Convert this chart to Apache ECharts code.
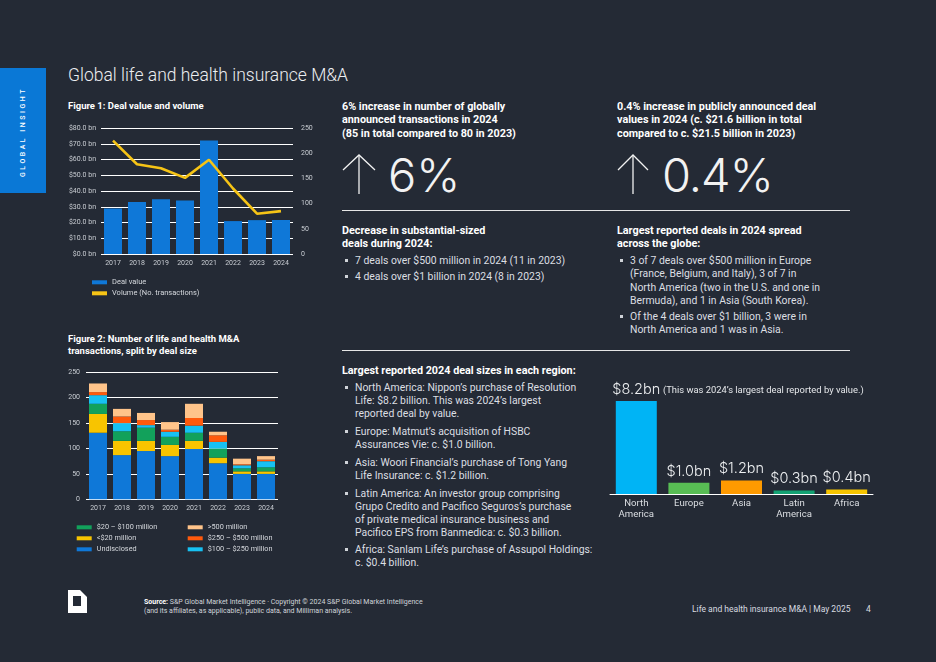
<!DOCTYPE html>
<html><head><meta charset="utf-8">
<script src="https://cdn.jsdelivr.net/npm/echarts@6/dist/echarts.min.js"></script>
<style>
html,body{margin:0;padding:0;}
body{width:936px;height:662px;background:#242a35;position:relative;overflow:hidden;font-family:Roboto,"Noto Sans",sans-serif;color:#dcdfe3;}
.abs{position:absolute;white-space:nowrap;}
.h{font-weight:700;color:#fff;font-size:10.8px;line-height:13.3px;}
.b{font-size:10.4px;line-height:13.2px;color:#dcdfe3;}
.bl{position:relative;padding-left:13px;}
.bl:before{content:"";position:absolute;left:3px;top:5px;width:3px;height:3px;background:#cfd3d8;}
.big{font-family:Inter,Roboto,sans-serif;font-weight:300;font-size:47px;color:#f2f2f2;line-height:50px;}
.rule{position:absolute;height:1px;background:#e6e6e6;}
.ft{font-size:9.5px;font-weight:700;color:#fff;line-height:11.5px;}
</style></head>
<body>
<div class="abs" style="left:0;top:68px;width:46px;height:125px;background:#0a78d6;"></div>
<div class="abs" style="left:23px;top:132px;transform:translate(-50%,-50%) rotate(-90deg);font-size:7px;letter-spacing:2.5px;color:#fff;font-weight:500;">GLOBAL INSIGHT</div>
<div class="abs" style="left:68px;top:63px;font-size:17.5px;font-weight:300;color:#eceef1;line-height:24px;">Global life and health insurance M&amp;A</div>

<div class="abs ft" style="left:68px;top:100px;">Figure 1: Deal value and volume</div>
<div class="abs ft" style="left:68px;top:333px;">Figure 2: Number of life and health M&amp;A<br>transactions, split by deal size</div>

<div id="c1" class="abs" style="left:60px;top:115px;width:270px;height:230px;"></div>
<div id="c2" class="abs" style="left:60px;top:360px;width:270px;height:230px;"></div>
<div id="c3" class="abs" style="left:595px;top:370px;width:285px;height:160px;"></div>

<!-- middle column -->
<div class="abs h" style="left:342px;top:100px;">6% increase in number of globally<br>announced transactions in 2024<br>(85 in total compared to 80 in 2023)</div>
<svg class="abs" style="left:340px;top:150px;" width="40" height="48"><polyline points="3,20 19,5 35,20" fill="none" stroke="#f2f2f2" stroke-width="1.3"/><line x1="19" y1="5" x2="19" y2="44" stroke="#f2f2f2" stroke-width="1.3"/></svg>
<div class="abs big" style="left:388px;top:150px;">6%</div>
<div class="rule" style="left:342px;top:210px;width:508px;"></div>
<div class="abs h" style="left:342px;top:224px;">Decrease in substantial-sized<br>deals during 2024:</div>
<div class="abs b" style="left:342px;top:253.5px;">
<div class="bl">7 deals over $500 million in 2024 (11 in 2023)</div>
<div class="bl" style="margin-top:3.4px;">4 deals over $1 billion in 2024 (8 in 2023)</div>
</div>

<!-- right column -->
<div class="abs h" style="left:617px;top:100px;">0.4% increase in publicly announced deal<br>values in 2024 (c. $21.6 billion in total<br>compared to c. $21.5 billion in 2023)</div>
<svg class="abs" style="left:615px;top:150px;" width="40" height="48"><polyline points="3,20 18,5 33,20" fill="none" stroke="#f2f2f2" stroke-width="1.3"/><line x1="18" y1="5" x2="18" y2="44" stroke="#f2f2f2" stroke-width="1.3"/></svg>
<div class="abs big" style="left:662px;top:150px;letter-spacing:-1px;">0.4%</div>
<div class="abs h" style="left:617px;top:224px;">Largest reported deals in 2024 spread<br>across the globe:</div>
<div class="abs b" style="left:617px;top:254px;line-height:13.3px;">
<div class="bl">3 of 7 deals over $500 million in Europe<br>(France, Belgium, and Italy), 3 of 7 in<br>North America (two in the U.S. and one in<br>Bermuda), and 1 in Asia (South Korea).</div>
<div class="bl" style="margin-top:2.7px;">Of the 4 deals over $1 billion, 3 were in<br>North America and 1 was in Asia.</div>
</div>
<div class="rule" style="left:342px;top:350px;width:508px;"></div>

<!-- middle lower -->
<div class="abs h" style="left:342px;top:364px;">Largest reported 2024 deal sizes in each region:</div>
<div class="abs b" style="left:342px;top:380.5px;line-height:13.1px;">
<div class="bl">North America: Nippon’s purchase of Resolution<br>Life: $8.2 billion. This was 2024’s largest<br>reported deal by value.</div>
<div class="bl" style="margin-top:5px;">Europe: Matmut’s acquisition of HSBC<br>Assurances Vie: c. $1.0 billion.</div>
<div class="bl" style="margin-top:5px;">Asia: Woori Financial’s purchase of Tong Yang<br>Life Insurance: c. $1.2 billion.</div>
<div class="bl" style="margin-top:5px;">Latin America: An investor group comprising<br>Grupo Credito and Pacifico Seguros’s purchase<br>of private medical insurance business and<br>Pacifico EPS from Banmedica: c. $0.3 billion.</div>
<div class="bl" style="margin-top:3px;">Africa: Sanlam Life’s purchase of Assupol Holdings:<br>c. $0.4 billion.</div>
</div>
<div class="abs" style="left:663px;top:384px;font-size:9.4px;line-height:11px;color:#e6e8eb;">(This was 2024’s largest deal reported by value.)</div>

<!-- footer -->
<svg class="abs" style="left:68px;top:590px;" width="20" height="24"><path d="M0,0 H12 L19,7 V23 H0 Z" fill="#fff"/><rect x="5" y="6" width="8" height="10" fill="#242a35"/></svg>
<div class="abs" style="left:144px;top:598px;font-size:7px;line-height:8.5px;color:#d0d4d9;">
<b style="color:#fff">Source:</b> S&amp;P Global Market Intelligence · Copyright © 2024 S&amp;P Global Market Intelligence<br>(and its affiliates, as applicable), public data, and Milliman analysis.</div>
<div class="abs" style="left:692px;top:604px;font-size:8.5px;line-height:10px;color:#d8dbe0;">Life and health insurance M&amp;A | May 2025</div>
<div class="abs" style="left:866px;top:604px;font-size:8.5px;line-height:10px;color:#d8dbe0;">4</div>

<script>
// ---- Data ----
const years = ['2017','2018','2019','2020','2021','2022','2023','2024'];
const dealValue = [28.9, 33.0, 34.7, 33.9, 72.1, 20.9, 21.5, 21.6];
const dealVolume = [225, 178, 170, 151, 187, 130, 80, 85];
const fig1AxisLeft = {min:0, max:80, interval:10};
const fig1AxisRight = {min:0, max:250, interval:50};

const sizeUndisclosed = [131, 87, 95, 85, 99, 71, 50, 50];
const sizeUnder20 = [37, 28, 20, 22, 16, 11, 5, 5];
const size20to100 = [20, 19, 26, 16, 16, 18, 6, 8];
const size100to250 = [17, 16, 5, 10, 14, 13, 6, 12];
const size250to500 = [6, 13, 10, 4, 15, 13, 2, 3];
const sizeOver500 = [17, 15, 14, 15, 28, 7, 11, 7];
const fig2Axis = {min:0, max:250, interval:50};

const regions = ['North\nAmerica','Europe','Asia','Latin\nAmerica','Africa'];
const regionDealBn = [8.2, 1.0, 1.2, 0.3, 0.4];

// ---- Styles ----
const axisTxt = '#c9cdd3';
const blue = '#0f78d8';
const yellow = '#f6c416';
const regionColors = ['#00b4f5','#58bd54','#ff9a00','#13a273','#f7c500'];

const c1 = echarts.init(document.getElementById('c1'));
c1.setOption({
  animation:false,
  grid:{left:41,right:37,top:13,bottom:91},
  legend:{orient:'vertical',left:32,top:161.8,padding:0,itemWidth:15,itemHeight:4,itemGap:0,
    textStyle:{color:'#d5d8dd',fontSize:7.5,lineHeight:11,fontFamily:'Roboto'},
    data:[{name:'Deal value',icon:'rect'},{name:'Volume (No. transactions)',icon:'rect'}]},
  xAxis:{type:'category',data:years,axisLine:{show:false},axisTick:{show:false},
    axisLabel:{color:axisTxt,fontSize:7,margin:6,fontFamily:'Roboto'}},
  yAxis:[
    {type:'value',min:fig1AxisLeft.min,max:fig1AxisLeft.max,interval:fig1AxisLeft.interval,
     axisLabel:{color:axisTxt,fontSize:7,margin:5,fontFamily:'Roboto',formatter:v=>'$'+v.toFixed(1)+' bn'},
     splitLine:{lineStyle:{color:'#ffffff',width:1}},axisLine:{show:false},axisTick:{show:false}},
    {type:'value',min:fig1AxisRight.min,max:fig1AxisRight.max,interval:fig1AxisRight.interval,
     axisLabel:{color:axisTxt,fontSize:7,margin:8,fontFamily:'Roboto'},
     splitLine:{show:false},axisLine:{show:false},axisTick:{show:false}}
  ],
  series:[
    {name:'Deal value',type:'bar',data:dealValue,barWidth:18,itemStyle:{color:blue}},
    {name:'Volume (No. transactions)',type:'line',yAxisIndex:1,data:dealVolume,symbol:'none',
     itemStyle:{color:yellow},lineStyle:{color:yellow,width:2.6}}
  ]
});

const c2 = echarts.init(document.getElementById('c2'));
const stackDefs = [
  ['Undisclosed', sizeUndisclosed, '#0f78d8'],
  ['<$20 million', sizeUnder20, '#f8c400'],
  ['$20 – $100 million', size20to100, '#12a15b'],
  ['$100 – $250 million', size100to250, '#17c1f2'],
  ['$250 – $500 million', size250to500, '#ff5a0c'],
  ['>500 million', sizeOver500, '#ffc48a']
];
const legTxt = {color:'#d5d8dd',fontSize:7.3,lineHeight:11,fontFamily:'Roboto'};
c2.setOption({
  animation:false,
  grid:{left:26,right:52,top:12.3,bottom:90.7},
  legend:[
    {orient:'vertical',left:16.7,top:161.8,padding:0,itemWidth:15,itemHeight:4,itemGap:0,textStyle:legTxt,
     data:[{name:'$20 – $100 million',icon:'rect'},{name:'<$20 million',icon:'rect'},{name:'Undisclosed',icon:'rect'}]},
    {orient:'vertical',left:127.7,top:161.8,padding:0,itemWidth:15,itemHeight:4,itemGap:0,textStyle:legTxt,
     data:[{name:'>500 million',icon:'rect'},{name:'$250 – $500 million',icon:'rect'},{name:'$100 – $250 million',icon:'rect'}]}
  ],
  xAxis:{type:'category',data:years,axisLine:{show:false},axisTick:{show:false},
    axisLabel:{color:axisTxt,fontSize:7,margin:5,fontFamily:'Roboto'}},
  yAxis:{type:'value',min:fig2Axis.min,max:fig2Axis.max,interval:fig2Axis.interval,
    axisLabel:{color:axisTxt,fontSize:7,margin:6,fontFamily:'Roboto'},
    splitLine:{lineStyle:{color:'#ffffff',width:1}},axisLine:{show:false},axisTick:{show:false}},
  series:stackDefs.map(([n,d,c])=>({name:n,type:'bar',stack:'s',data:d,barWidth:18,itemStyle:{color:c}}))
});

const c3 = echarts.init(document.getElementById('c3'));
c3.setOption({
  animation:false,
  grid:{left:15,right:7,top:31,bottom:36},
  xAxis:{type:'category',data:regions,axisLine:{lineStyle:{color:'#ffffff',width:1}},axisTick:{show:false},
    axisLabel:{color:'#dcdfe3',fontSize:9.6,lineHeight:11,margin:4,fontFamily:'Roboto',interval:0}},
  yAxis:{type:'value',min:0,max:8.2,show:false},
  series:[{type:'bar',barWidth:41,
    data:regionDealBn.map((v,i)=>({value:v,itemStyle:{color:regionColors[i]}})),
    label:{show:true,position:'top',distance:4,color:'#eef0f2',fontSize:14.5,fontWeight:300,fontFamily:'Inter',
      formatter:p=>'$'+p.value.toFixed(1)+'bn'}}]
});
</script>
</body></html>
